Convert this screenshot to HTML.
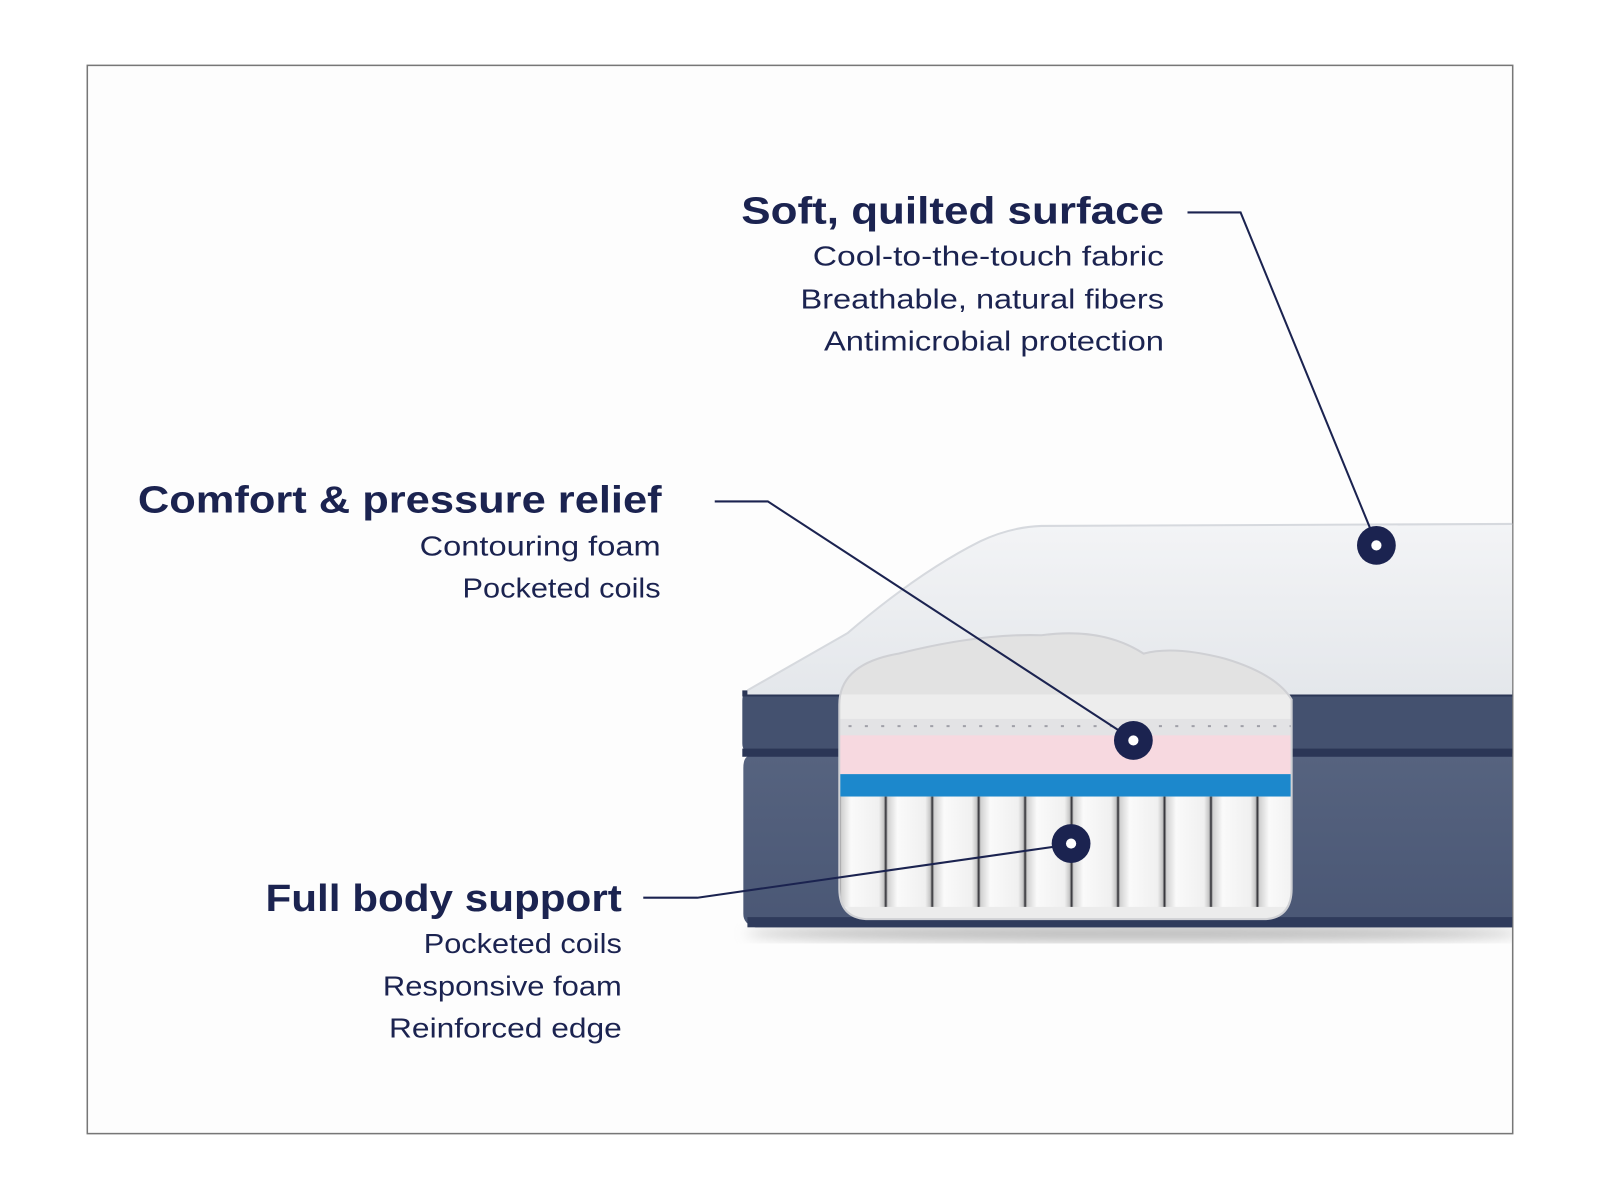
<!DOCTYPE html>
<html><head><meta charset="utf-8"><style>
html,body{margin:0;padding:0;background:#fff;}
svg{display:block;}
text{font-family:"Liberation Sans",sans-serif;fill:#1b2350;}
.t{font-weight:bold;font-size:37px;}
.s{font-size:27px;}
</style></head><body>
<svg width="1600" height="1200" viewBox="0 0 1567 1175" preserveAspectRatio="none" xmlns="http://www.w3.org/2000/svg">
<defs>
<linearGradient id="top" x1="0" y1="0" x2="0" y2="1"><stop offset="0" stop-color="#f3f4f6"/><stop offset="1" stop-color="#e4e7eb"/></linearGradient>
<linearGradient id="body" x1="0" y1="0" x2="0" y2="1"><stop offset="0" stop-color="#56637f"/><stop offset="1" stop-color="#4a5775"/></linearGradient>
<linearGradient id="coil" x1="0" y1="0" x2="1" y2="0"><stop offset="0" stop-color="#222228"/><stop offset="0.04" stop-color="#d0d0d0"/><stop offset="0.25" stop-color="#fafafa"/><stop offset="0.85" stop-color="#f0f0f0"/><stop offset="0.96" stop-color="#c4c4c4"/><stop offset="1" stop-color="#222228"/></linearGradient>
<pattern id="coils" x="822" y="0" width="45.5" height="1200" patternUnits="userSpaceOnUse"><rect width="45.5" height="1200" fill="url(#coil)"/></pattern>
<clipPath id="cut"><path d="M822,690 Q822,650 880,640 Q960,620 1020,622 Q1080,614 1120,640 Q1150,632 1200,645 Q1250,660 1265,685 L1265,870 Q1265,898 1240,900 L848,900 Q822,898 822,870 Z"/></clipPath>
<clipPath id="frame"><rect x="86" y="64" width="1395" height="1045"/></clipPath>
<filter id="bl"><feGaussianBlur stdDeviation="6"/></filter>
</defs>
<rect width="1567" height="1175" fill="#fff"/>
<rect x="85.5" y="64" width="1396" height="1046" fill="#fdfdfd" stroke="#777" stroke-width="1.5"/>
<g clip-path="url(#frame)">
<ellipse cx="1110" cy="914" rx="380" ry="8" fill="#bbb" filter="url(#bl)"/>
<path d="M735,740 L1482,740 L1482,908 L740,908 Q728,905 728,895 L728,752 Q728,740 735,740 Z" fill="url(#body)"/>
<rect x="732" y="898" width="750" height="10" fill="#2f3b5c"/>
<path d="M735,676 L1482,676 L1482,738 L735,738 Q727,736 727,728 L727,686 Q727,676 735,676 Z" fill="#44516f"/>
<rect x="727" y="733" width="755" height="8" fill="#2b3656"/>
<rect x="727" y="676" width="755" height="6" fill="#2b3656"/>
<path d="M732,676 Q760,660 830,620 Q900,560 960,530 Q990,516 1020,515 L1482,513 L1482,680 L732,680 Z" fill="url(#top)"/>
<path d="M732,676 Q760,660 830,620 Q900,560 960,530 Q990,516 1020,515 L1482,513" fill="none" stroke="#d6d9de" stroke-width="2"/>
<g clip-path="url(#cut)">
<rect x="815" y="610" width="460" height="300" fill="#e2e2e2"/>
<rect x="815" y="680" width="460" height="24" fill="#ededed"/>
<rect x="815" y="704" width="460" height="16" fill="#e3e3e5"/>
<line x1="815" y1="711" x2="1275" y2="711" stroke="#a0a0a8" stroke-width="2" stroke-dasharray="3 13"/>
<rect x="815" y="720" width="460" height="38" fill="#f7d9e0"/>
<rect x="815" y="758" width="460" height="22" fill="#1c88cc"/>
<rect x="815" y="780" width="460" height="110" fill="url(#coils)"/>
<rect x="815" y="888" width="460" height="14" fill="#ececec"/>
</g>
<path d="M822,690 Q822,650 880,640 Q960,620 1020,622 Q1080,614 1120,640 Q1150,632 1200,645 Q1250,660 1265,685 L1265,870 Q1265,898 1240,900 L848,900 Q822,898 822,870 Z" fill="none" stroke="#cfd0d4" stroke-width="2"/>
</g>
<g stroke="#1b2350" stroke-width="2" fill="none">
<polyline points="1163,208 1215,208 1343,520"/>
<polyline points="700,491 752,491 1100,718"/>
<polyline points="630,879 683,879 1040,828"/>
</g>
<g fill="#1b2350">
<circle cx="1348" cy="534" r="19"/><circle cx="1110" cy="725" r="19"/><circle cx="1049" cy="826" r="19"/>
</g>
<g fill="#fff"><circle cx="1348" cy="534" r="5"/><circle cx="1110" cy="725" r="5"/><circle cx="1049" cy="826" r="5"/></g>
<text class="t" x="1140" y="219" text-anchor="end" textLength="414" lengthAdjust="spacingAndGlyphs">Soft, quilted surface</text>
<text class="s" x="1140" y="260" text-anchor="end" textLength="344" lengthAdjust="spacingAndGlyphs">Cool-to-the-touch fabric</text>
<text class="s" x="1140" y="302" text-anchor="end" textLength="356" lengthAdjust="spacingAndGlyphs">Breathable, natural fibers</text>
<text class="s" x="1140" y="343" text-anchor="end" textLength="333" lengthAdjust="spacingAndGlyphs">Antimicrobial protection</text>
<text class="t" x="648" y="502" text-anchor="end" textLength="513" lengthAdjust="spacingAndGlyphs">Comfort &amp; pressure relief</text>
<text class="s" x="647" y="544" text-anchor="end" textLength="236" lengthAdjust="spacingAndGlyphs">Contouring foam</text>
<text class="s" x="647" y="585" text-anchor="end" textLength="194" lengthAdjust="spacingAndGlyphs">Pocketed coils</text>
<text class="t" x="609" y="892" text-anchor="end" textLength="349" lengthAdjust="spacingAndGlyphs">Full body support</text>
<text class="s" x="609" y="933" text-anchor="end" textLength="194" lengthAdjust="spacingAndGlyphs">Pocketed coils</text>
<text class="s" x="609" y="975" text-anchor="end" textLength="234" lengthAdjust="spacingAndGlyphs">Responsive foam</text>
<text class="s" x="609" y="1016" text-anchor="end" textLength="228" lengthAdjust="spacingAndGlyphs">Reinforced edge</text>
</svg>
</body></html>
